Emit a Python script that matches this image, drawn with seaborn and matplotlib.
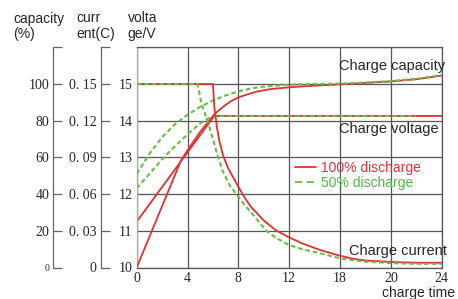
import numpy as np
import pandas as pd
import seaborn as sns
from matplotlib import pyplot as plt
from matplotlib.lines import Line2D

# charge time (grid units) and readings, 100% discharge
cap100_t = [0, 3.5, 4.2, 5.0, 6.1, 6.8, 7.4, 8.1, 9.4, 10.5, 12, 14, 16, 18, 20, 22, 24]
cap100 = [0, 58.6, 66, 74, 83.4, 87.6, 90.6, 93, 95.8, 97.2, 98.2, 99.1, 99.8, 100.6, 101.4, 102.6, 104.6]
volt100_t = [0, 6.1, 24]
volt100 = [11.25, 14.13, 14.13]
cur100_t = [0, 6.0, 6.1, 6.3, 6.5, 6.8, 7.2, 7.6, 8.0, 8.5, 9, 10, 11, 12, 13, 14.4, 16, 17, 18, 20, 22, 24]
cur100 = [0.15, 0.15, 0.132, 0.1155, 0.1035, 0.0915, 0.081, 0.0735, 0.066, 0.057, 0.0495, 0.0384,
          0.03, 0.0246, 0.0198, 0.0144, 0.0096, 0.0072, 0.0057, 0.0045, 0.0039, 0.0039]

# 50% discharge
cap50_t = [0, 1, 2, 3, 4, 5, 6, 7, 8, 9, 10, 12, 14, 16, 18, 20, 22, 24]
cap50 = [51, 62, 71, 78, 83.2, 87.6, 91, 93.8, 96, 97.6, 98.6, 99.6, 100, 100.2, 100.8, 101.6, 102.8, 104.8]
volt50_t = [0, 1, 2, 3, 4, 5, 5.6, 6.1, 22]
volt50 = [12.16, 12.55, 12.95, 13.3, 13.63, 13.93, 14.06, 14.13, 14.13]
cur50_t = [0, 4.8, 5.1, 5.5, 6.0, 6.4, 6.8, 7.3, 7.84, 8.5, 9, 10.2, 11, 12, 13, 14.4, 16, 17, 18, 20, 22, 24]
cur50 = [0.15, 0.15, 0.1335, 0.1221, 0.105, 0.09, 0.078, 0.0675, 0.06, 0.051, 0.045, 0.03, 0.024,
         0.0183, 0.015, 0.0117, 0.0075, 0.006, 0.0048, 0.0036, 0.003, 0.003]

x_ticks = [0, 4, 8, 12, 16, 20, 24]
x_labels = ['0', '4', '8', '12', '18', '20', '24']
volt_labels = ['10', '11', '12', '13', '14', '15', '']
cap_labels = ['0', '20', '40', '60', '80', '100', '']
cur_labels = ['0', '0. 03', '0. 06', '0. 09', '0. 12', '0. 15', '']

RED = '#e2312f'
GREEN = '#66bd48'
GRID = '#555555'
DASH = (0, (2.2, 1.4))

sns.set_style('white')
plt.rcParams['font.family'] = ['Liberation Sans', 'DejaVu Sans']
serif = 'Liberation Serif'

W, H = 458, 299
fig = plt.figure(figsize=(W / 100, H / 100), dpi=100)
x0, x1, y0, y1 = 136.7, 441.7, 47.3, 267.5
ax = fig.add_axes([x0 / W, 1 - y1 / H, (x1 - x0) / W, (y1 - y0) / H])
ax2 = ax.twinx()
ax3 = ax.twinx()


def draw(a, t, y, color, dashed):
    df = pd.DataFrame({'t': t, 'y': y})
    sns.lineplot(data=df, x='t', y='y', ax=a, color=color, estimator=None, sort=False,
                 lw=1.5 if dashed else 1.3, linestyle=DASH if dashed else '-')
    a.set_xlabel('')
    a.set_ylabel('')


draw(ax, volt100_t, volt100, RED, False)
draw(ax, volt50_t, volt50, GREEN, True)
draw(ax2, cap100_t, cap100, RED, False)
draw(ax2, cap50_t, cap50, GREEN, True)
draw(ax3, cur100_t, cur100, RED, False)
draw(ax3, cur50_t, cur50, GREEN, True)

ax.set_xlim(0, 24)
ax.set_ylim(10, 16)
ax.set_xticks(x_ticks)
ax.set_xticklabels(x_labels, family=serif, fontsize=10)
ax.set_yticks(np.arange(10, 17))
ax.set_yticklabels(volt_labels, family=serif, fontsize=10)
ax.tick_params(length=0)
ax.tick_params(axis='x', pad=3)
ax.tick_params(axis='y', pad=3)
ax.grid(True, color=GRID, lw=0.9)
for s in ax.spines.values():
    s.set_color(GRID)
    s.set_linewidth(0.9)
ax.spines['left'].set_color('#aaaaaa')

for a, lim, ticks, labels, off in [(ax2, (0, 120), np.arange(0, 121, 20), cap_labels, (53.3 - x0) / (x1 - x0)),
                                   (ax3, (0, 0.18), np.arange(0, 0.181, 0.03), cur_labels, (100.7 - x0) / (x1 - x0))]:
    a.set_ylim(*lim)
    for k in ['right', 'top', 'bottom']:
        a.spines[k].set_visible(False)
    a.spines['left'].set_visible(True)
    a.spines['left'].set_position(('axes', off))
    a.spines['left'].set_color('#666666')
    a.spines['left'].set_linewidth(0.9)
    a.yaxis.set_ticks_position('left')
    a.set_yticks(ticks)
    a.set_yticklabels(labels, family=serif, fontsize=10)
    a.tick_params(axis='y', direction='in', length=6.5, width=0.9, color='#666666', pad=3)
ax2.get_yticklabels()[0].set_fontsize(7)

# header labels
for txt, px, py in [('capacity', 13, 22.5), ('(%)', 13, 38), ('curr', 76, 22.5), ('ent(C)', 76, 38),
                    ('volta', 127.5, 22.5), ('ge/V', 127.5, 38)]:
    fig.text(px / W, 1 - py / H, txt, fontsize=10, va='baseline', ha='left')

ax.text(15.95, 15.38, 'Charge capacity', fontsize=10.5, va='baseline')
ax.text(15.95, 13.67, 'Charge voltage', fontsize=10.5, va='baseline')
ax.text(16.7, 10.34, 'Charge current', fontsize=10.5, va='baseline')
fig.text(382 / W, 1 - 297.5 / H, 'charge time', fontsize=10, va='baseline')

handles = [Line2D([], [], color=RED, lw=1.3), Line2D([], [], color=GREEN, lw=1.3, linestyle=(0, (4, 2.5)))]
leg = ax.legend(handles, ['100% discharge', '50% discharge'], loc='upper left', frameon=False,
                bbox_to_anchor=(295 / W, 1 - 161 / H), bbox_transform=fig.transFigure,
                borderpad=0, borderaxespad=0, handlelength=1.5, handletextpad=0.35,
                labelspacing=0.05, fontsize=10)
leg.get_texts()[0].set_color('#e8323a')
leg.get_texts()[1].set_color('#4dbb4a')

plt.savefig('out.png', dpi=100)
